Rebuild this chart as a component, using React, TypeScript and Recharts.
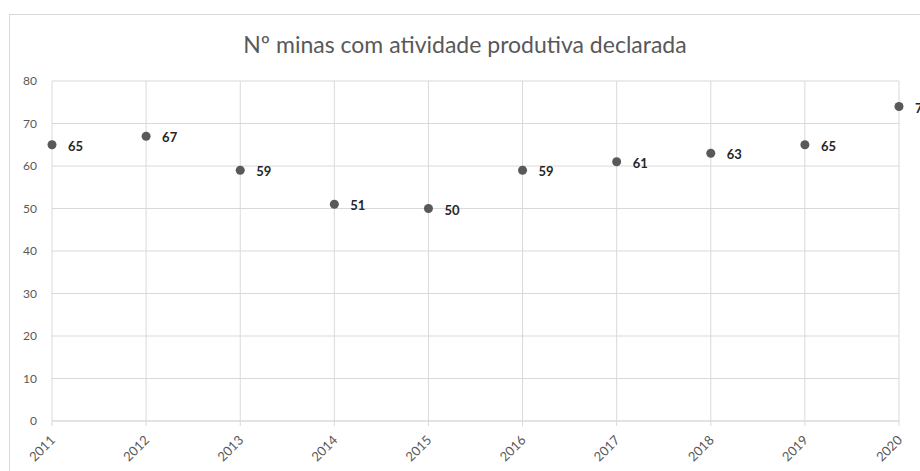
import { ScatterChart, Scatter, XAxis, YAxis, CartesianGrid } from "recharts";

const years = [2011, 2012, 2013, 2014, 2015, 2016, 2017, 2018, 2019, 2020];
const minas = [65, 67, 59, 51, 50, 59, 61, 63, 65, 74];
const yTicks = [0, 10, 20, 30, 40, 50, 60, 70, 80];

const chartData = years.map((year, i) => ({ year, minas: minas[i] }));

const FONT = "Lato, 'Liberation Sans', sans-serif";
const GRID = "#d9d9d9";
const TEXT = "#595959";

// rotated year labels, like Excel's -45°
function YearTick({ x, y, payload }: { x?: number; y?: number; payload?: { value: number } }) {
  const tx = (x ?? 0) + 4;
  const ty = (y ?? 0) + 13;
  return (
    <text
      x={tx}
      y={ty}
      transform={`rotate(-45, ${tx}, ${ty})`}
      textAnchor="end"
      fill={TEXT}
      fontSize={13}
      fontFamily={FONT}
    >
      {payload?.value}
    </text>
  );
}

// dot plus bold value label to its right
function PointShape(props: { cx?: number; cy?: number; payload?: { minas: number } }) {
  const cx = props.cx ?? 0;
  const cy = props.cy ?? 0;
  return (
    <g>
      <circle cx={cx} cy={cy} r={4.5} fill="#595959" />
      <text
        x={cx + 16}
        y={cy + 1}
        dominantBaseline="central"
        fill="#262626"
        fontSize={13}
        fontWeight="bold"
        fontFamily={FONT}
      >
        {props.payload?.minas}
      </text>
    </g>
  );
}

export default function App() {
  return (
    <div
      style={{
        position: "absolute",
        left: 0,
        top: 0,
        width: 920,
        height: 471,
        overflow: "hidden",
        background: "#fff",
      }}
    >
      <div
        style={{
          position: "absolute",
          left: 9,
          top: 14,
          width: 910,
          height: 460,
          border: `1px solid ${GRID}`,
          fontFamily: FONT,
        }}
      >
        <div
          style={{
            position: "absolute",
            left: 0,
            top: 14,
            width: "100%",
            textAlign: "center",
            fontSize: 23,
            lineHeight: "30px",
            color: TEXT,
          }}
        >
          Nº minas com atividade produtiva declarada
        </div>
        <ScatterChart
          width={910}
          height={460}
          margin={{ top: 66, right: 21, left: 0, bottom: 0 }}
          style={{ overflow: "visible" }}
        >
          <CartesianGrid stroke={GRID} />
          <XAxis
            type="number"
            dataKey="year"
            domain={[2011, 2020]}
            ticks={years}
            height={54}
            axisLine={{ stroke: GRID }}
            tickLine={{ stroke: GRID }}
            tickSize={5}
            tickMargin={2}
            tick={<YearTick />}
            interval={0}
          />
          <YAxis
            type="number"
            dataKey="minas"
            domain={[0, 80]}
            ticks={yTicks}
            width={42}
            axisLine={false}
            tickLine={false}
            tickSize={6}
            tickMargin={9}
            tick={{ fill: TEXT, fontSize: 12, fontFamily: FONT }}
          />
          <Scatter data={chartData} shape={<PointShape />} isAnimationActive={false} />
        </ScatterChart>
      </div>
    </div>
  );
}
